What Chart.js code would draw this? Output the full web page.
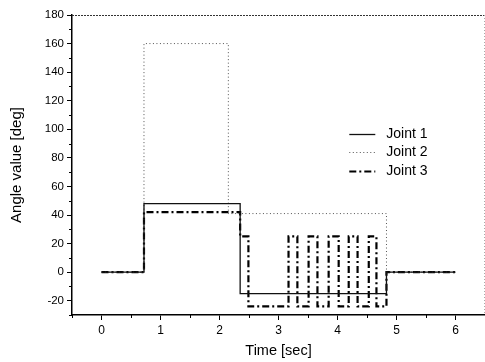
<!DOCTYPE html>
<html>
<head>
<meta charset="utf-8">
<script src="https://cdn.jsdelivr.net/npm/chart.js@4/dist/chart.umd.min.js"></script>
<style>
html,body{margin:0;padding:0;background:#fff;}
#wrap{width:485px;height:362px;position:relative;}
</style>
</head>
<body>
<div id="wrap"><canvas id="c" width="485" height="362"></canvas></div>
<script>
// ---- data ----
const seriesNames = ["Joint 1", "Joint 2", "Joint 3"];
const joint1Time  = [0, 0.72, 2.35, 4.83, 6];
const joint1Angle = [0, 48, -15, 0, 0];
const joint2Time  = [0, 0.72, 2.15, 4.83, 6];
const joint2Angle = [0, 160, 41, 0, 0];
const joint3Time  = [0, 0.72, 2.35, 2.49, 3.17, 3.32, 3.51, 3.66, 3.85, 4.02, 4.19, 4.34, 4.53, 4.66, 4.83, 6];
const joint3Angle = [0, 42, 25, -24, 25, -24, 25, -24, 25, -24, 25, -24, 25, -24, 0, 0];
const xTickValues = [0, 1, 2, 3, 4, 5, 6];
const yTickValues = [-20, 0, 20, 40, 60, 80, 100, 120, 140, 160, 180];
const xMinorValues = [-0.5, 0.5, 1.5, 2.5, 3.5, 4.5, 5.5];
const yMinorValues = [-30, -10, 10, 30, 50, 70, 90, 110, 130, 150, 170];
const xTitle = "Time [sec]";
const yTitle = "Angle value [deg]";

const toPts = (t, v) => t.map((x, i) => ({x: x, y: v[i]}));
const FONT = "'Liberation Sans', Arial, sans-serif";

const datasets = [
  {label: seriesNames[0], data: toPts(joint1Time, joint1Angle), borderColor: '#111', borderWidth: 1.3, borderDash: []},
  {label: seriesNames[1], data: toPts(joint2Time, joint2Angle), borderColor: '#555', borderWidth: 1, borderDash: [1, 2.5]},
  {label: seriesNames[2], data: toPts(joint3Time, joint3Angle), borderColor: '#000', borderWidth: 2.2, borderDash: [7, 3, 2, 3]}
].map(d => Object.assign(d, {stepped: 'before', pointRadius: 0, fill: false, tension: 0}));

const framePlugin = {
  id: 'frame',
  afterDraw(chart) {
    const ctx = chart.ctx, a = chart.chartArea;
    const xs = chart.scales.x, ys = chart.scales.y;
    ctx.save();
    // top frame
    ctx.strokeStyle = '#333'; ctx.lineWidth = 1.2; ctx.setLineDash([2, 1]);
    ctx.beginPath(); ctx.moveTo(a.left, a.top + 0.5); ctx.lineTo(a.right, a.top + 0.5); ctx.stroke();
    // right frame
    ctx.strokeStyle = '#aaa'; ctx.lineWidth = 1; ctx.setLineDash([1, 2]);
    ctx.beginPath(); ctx.moveTo(a.right - 0.5, a.top); ctx.lineTo(a.right - 0.5, a.bottom); ctx.stroke();
    ctx.setLineDash([]);
    // minor ticks
    ctx.strokeStyle = '#000'; ctx.lineWidth = 1;
    xMinorValues.forEach(v => {
      const px = Math.round(xs.getPixelForValue(v)) + 0.5;
      ctx.beginPath(); ctx.moveTo(px, a.bottom); ctx.lineTo(px, a.bottom + 3); ctx.stroke();
    });
    yMinorValues.forEach(v => {
      const py = Math.round(ys.getPixelForValue(v)) + 0.5;
      ctx.beginPath(); ctx.moveTo(a.left, py); ctx.lineTo(a.left - 3, py); ctx.stroke();
    });
    // legend
    const lx0 = xs.getPixelForValue(4.2), lx1 = lx0 + 26;
    const ly0 = ys.getPixelForValue(97);
    ctx.font = '14px ' + FONT; ctx.fillStyle = '#000'; ctx.textBaseline = 'middle'; ctx.textAlign = 'left';
    chart.data.datasets.forEach((d, i) => {
      const y = Math.round(ly0 + i * 18.5) + 0.5;
      ctx.strokeStyle = d.borderColor; ctx.lineWidth = d.borderWidth; ctx.setLineDash(d.borderDash);
      ctx.beginPath(); ctx.moveTo(lx0, y); ctx.lineTo(lx1, y); ctx.stroke();
      ctx.setLineDash([]);
      ctx.fillText(d.label, lx1 + 11, y);
    });
    ctx.restore();
  }
};

new Chart(document.getElementById('c'), {
  type: 'line',
  data: {datasets: datasets},
  options: {
    responsive: false,
    animation: false,
    layout: {padding: {top: 15, right: 0, left: 0, bottom: 0}},
    plugins: {legend: {display: false}, tooltip: {enabled: false}},
    scales: {
      x: {
        type: 'linear', min: -0.5, max: 6.5,
        afterBuildTicks: s => { s.ticks = xTickValues.map(v => ({value: v})); },
        afterFit: s => { s.height = 47; },
        ticks: {color: '#000', font: {family: FONT, size: 12}, padding: 3, maxRotation: 0, autoSkip: false},
        grid: {drawOnChartArea: false, drawTicks: true, tickLength: 5, tickColor: '#000', tickWidth: 1},
        border: {color: '#000', width: 1.5},
        title: {display: true, text: xTitle, color: '#000', font: {family: FONT, size: 14.5}, padding: {top: 2, bottom: 2}}
      },
      y: {
        type: 'linear', min: -30, max: 180,
        afterBuildTicks: s => { s.ticks = yTickValues.map(v => ({value: v})); },
        afterFit: s => { s.width = 72; },
        ticks: {color: '#000', font: {family: FONT, size: 11.5}, padding: 3, autoSkip: false},
        grid: {drawOnChartArea: false, drawTicks: true, tickLength: 5, tickColor: '#000', tickWidth: 1},
        border: {color: '#000', width: 1.5},
        title: {display: true, text: yTitle, color: '#000', font: {family: FONT, size: 15}, padding: {top: 8, bottom: 4}}
      }
    }
  },
  plugins: [framePlugin]
});
</script>
</body>
</html>
